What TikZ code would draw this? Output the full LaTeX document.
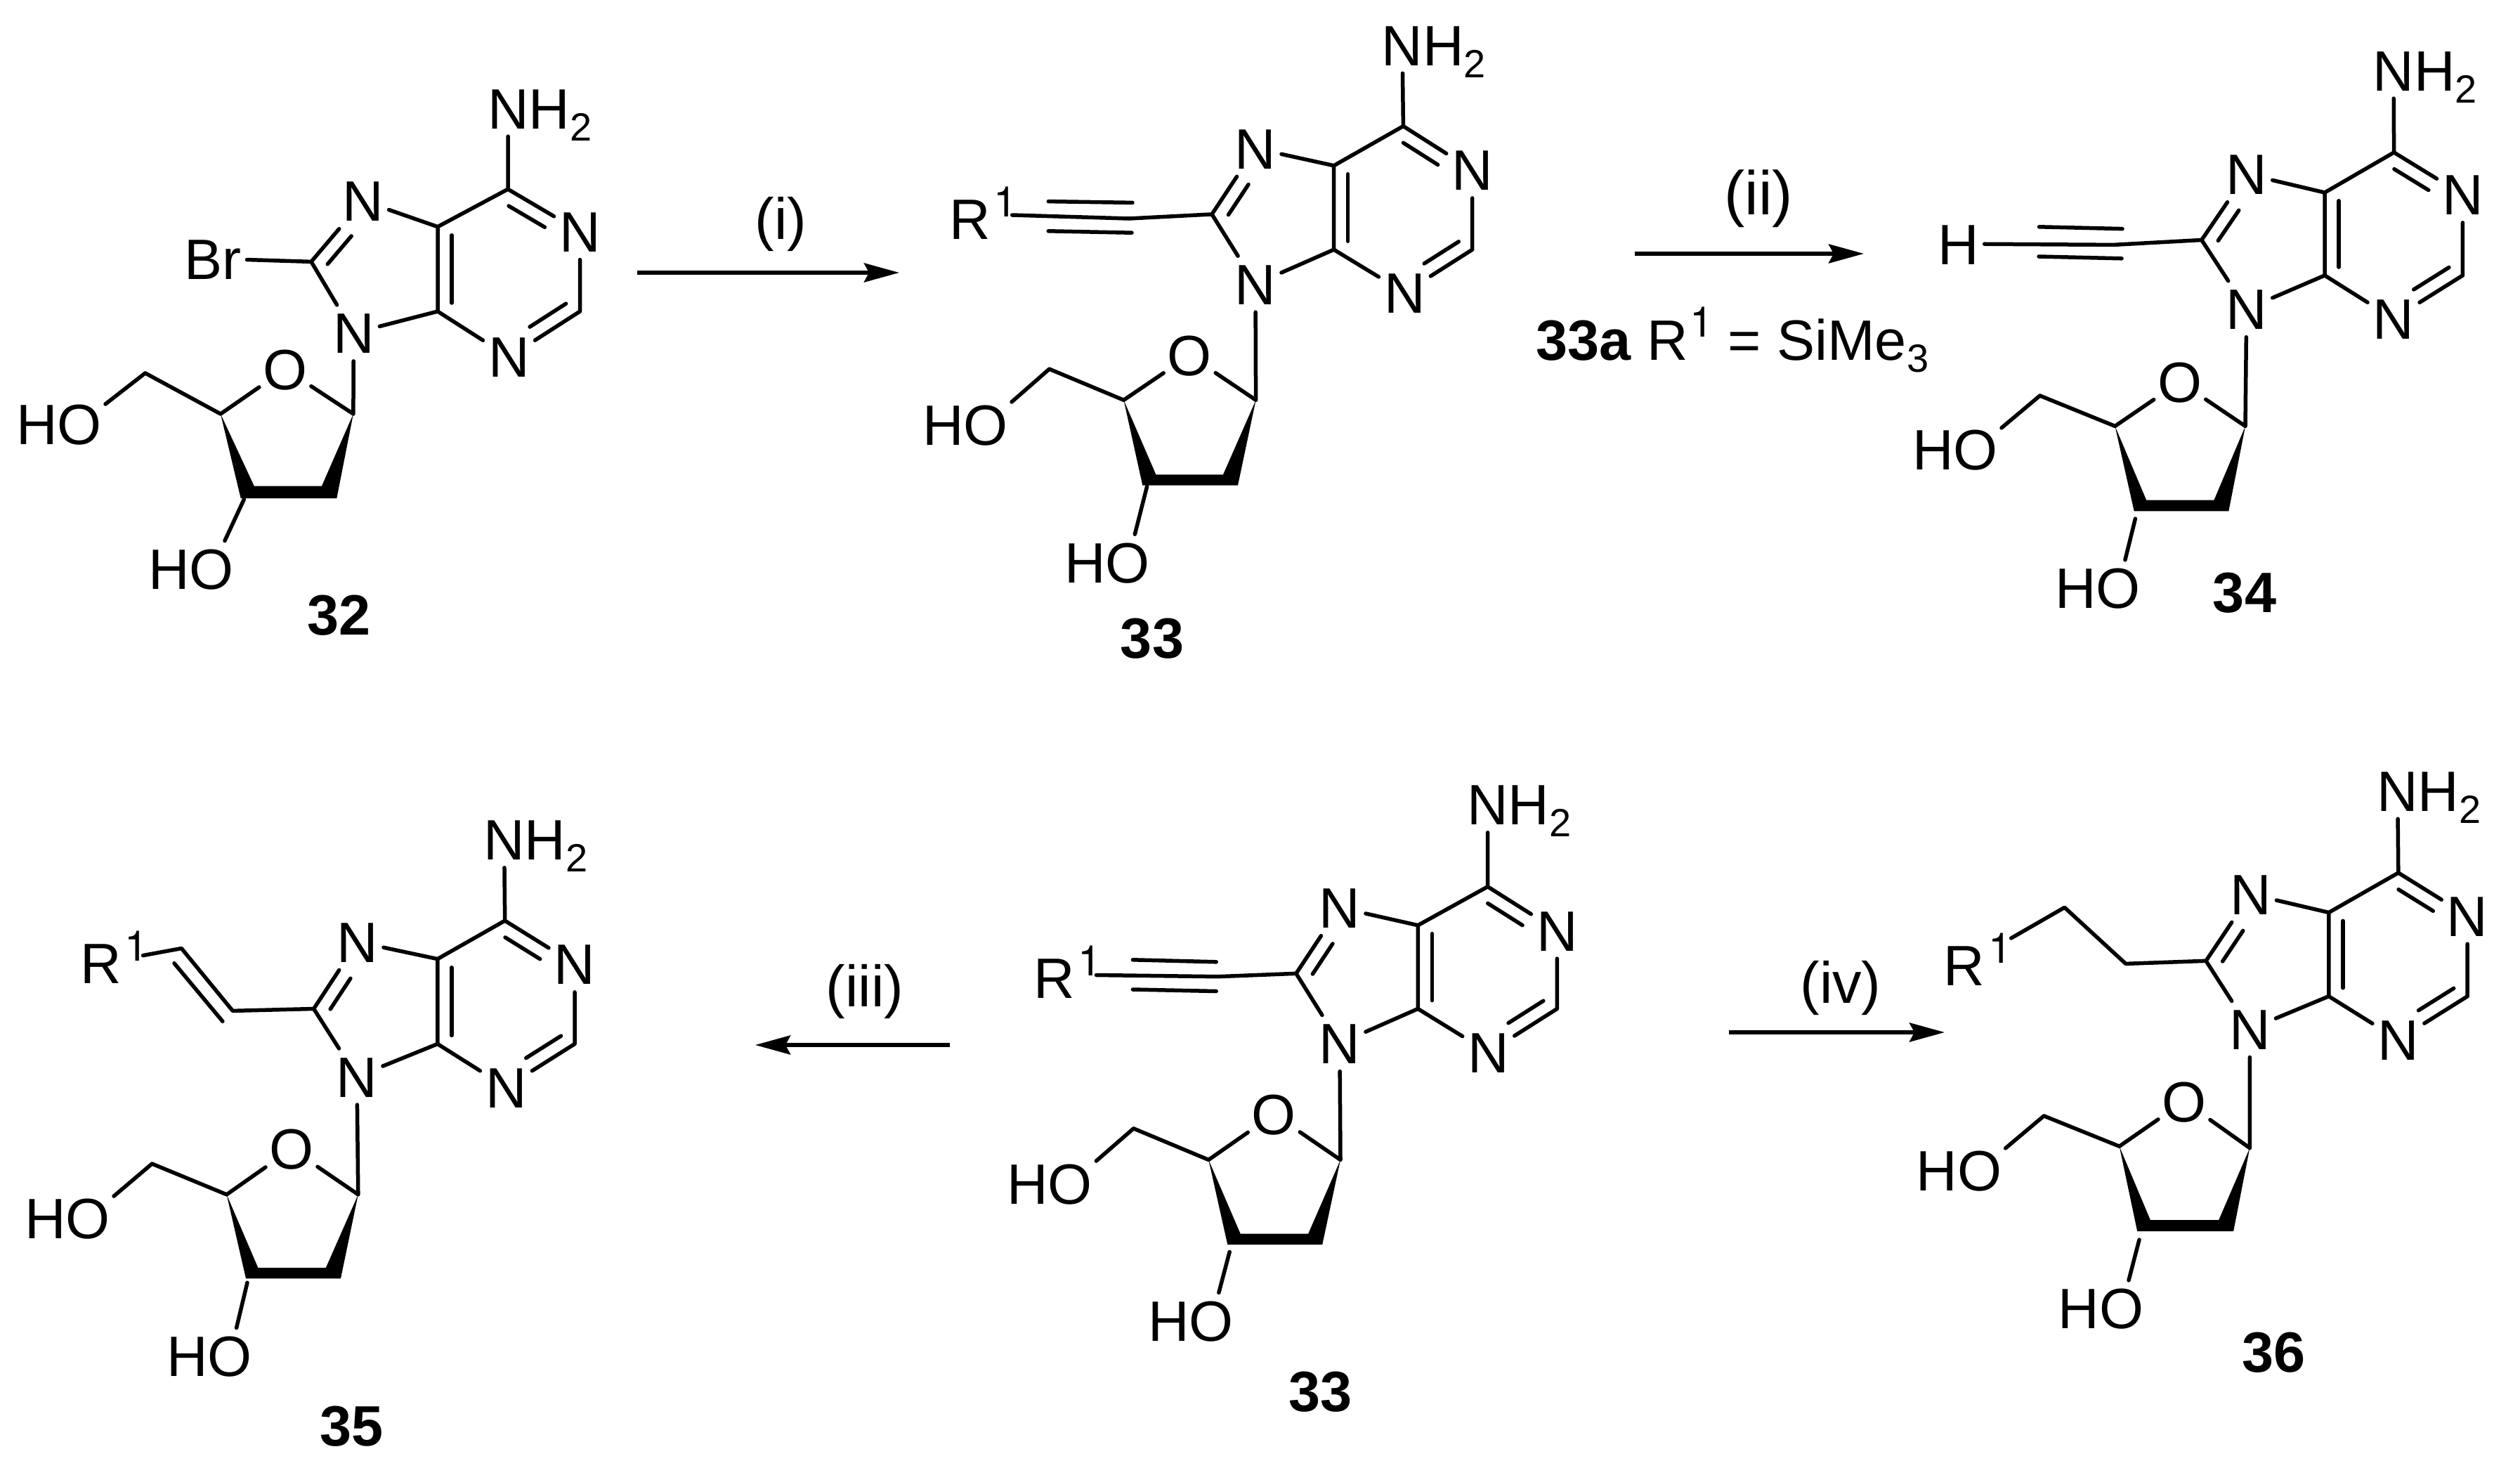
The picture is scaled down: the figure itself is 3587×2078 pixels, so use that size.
\documentclass[tikz,border=0pt]{standalone}
\usepackage{fontspec}
\setmainfont{Liberation Sans}
\newfontfamily\heros{TeX Gyre Heros}
\usetikzlibrary{calc,arrows.meta}
\newcommand\fA{\fontsize{81pt}{96pt}\selectfont}
\newcommand\fS{\fontsize{56pt}{60pt}\selectfont}
\newcommand\fU{\fontsize{60pt}{60pt}\selectfont}
\newcommand\NHt{N\rlap{H\lower17pt\hbox{\fS 2}}}
\newcommand\HOa{\llap{H}O}
\newcommand\Rone{R\rlap{\kern5pt\raise32pt\hbox{\fU\heros 1}}}
\newcommand\dbl[4]{\draw[bond] ($(#1)!#3!(#2)!20pt!-90:(#2)$) -- ($(#1)!#4!(#2)!20pt!-90:(#2)$);}
\newcommand\nuc[1]{%
  \draw[bond] (#1nh)--(#1c6) (#1c6)--(#1n1) (#1n1)--(#1c2) (#1c2)--(#1n3) (#1n3)--(#1c4)
    (#1c4)--(#1c5) (#1c5)--(#1c6) (#1c5)--(#1n7) (#1n7)--(#1c8) (#1c8)--(#1n9) (#1n9)--(#1c4)
    (#1n9)--(#1ca) (#1ca)--(#1o) (#1o)--(#1cd) (#1cd)--(#1ce) (#1ce)--(#1ho) (#1cc)--(#1oh);
  \fill (#1cd)--(#1tl)--(#1tr)--(#1ca)--(#1br)--(#1bl)--cycle;
  \dbl{#1c6}{#1n1}{0.11}{0.61}
  \dbl{#1c2}{#1n3}{0.09}{0.60}
  \dbl{#1c4}{#1c5}{0.10}{0.90}
  \dbl{#1c8}{#1n7}{0.11}{0.57}
}
\tikzset{
  atom/.style={font=\fA,inner sep=0pt,outer sep=0pt,minimum width=74pt,minimum height=80pt,text height=58pt,text depth=0pt},
  cpd/.style={font=\fA\bfseries,inner sep=0pt,text height=58pt,text depth=0pt},
  rxnlab/.style={font=\fontsize{83pt}{96pt}\selectfont,inner sep=0pt,anchor=base},
  bond/.style={line width=5.5pt,line cap=round,line join=round},
  rxn/.style={line width=5.5pt,-{Stealth[length=50pt,width=27pt,inset=7pt]}}
}
\begin{document}
\begin{tikzpicture}[x=1pt,y=-1pt]
\useasboundingbox (0,0) rectangle (3587,2078);
% ---------- 32
\node[atom] (anh) at (723.3,154.1) {\NHt};
\node[atom] (an1) at (825.5,329.6) {N};
\node[atom] (an3) at (724.5,507.9) {N};
\node[atom] (an7) at (516.6,285.7) {N};
\node[atom] (an9) at (503.4,473.9) {N};
\node[atom] (ao) at (405.9,525.3) {O};
\node[atom] (aho) at (113,603.8) {\HOa};
\node[atom] (aoh) at (301.4,809.5) {\HOa};
\node[atom,minimum width=98pt] (abr) at (302.5,368) {Br};
\coordinate (ac6) at (723,269.2);
\coordinate (ac2) at (825.5,443.1);
\coordinate (ac4) at (623,443.1);
\coordinate (ac5) at (623,322.7);
\coordinate (ac8) at (443,372.4);
\coordinate (aca) at (502.9,589);
\coordinate (acd) at (314,589);
\coordinate (acc) at (347.3,710.6);
\coordinate (ace) at (206.7,530.9);
\coordinate (atl) at (361.7,691.5);
\coordinate (atr) at (458,691.5);
\coordinate (abr2) at (479.3,709.1);
\coordinate (abl) at (342.7,709.1);
\draw[bond] (anh)--(ac6) (ac6)--(an1) (an1)--(ac2) (ac2)--(an3) (an3)--(ac4)
  (ac4)--(ac5) (ac5)--(ac6) (ac5)--(an7) (an7)--(ac8) (ac8)--(an9) (an9)--(ac4)
  (an9)--(aca) (aca)--(ao) (ao)--(acd) (acd)--(ace) (ace)--(aho) (acc)--(aoh) (abr)--(ac8);
\fill (acd)--(atl)--(atr)--(aca)--(abr2)--(abl)--cycle;
\dbl{ac6}{an1}{0.11}{0.61}
\dbl{ac2}{an3}{0.09}{0.60}
\dbl{ac4}{ac5}{0.10}{0.90}
\dbl{ac8}{an7}{0.11}{0.57}
\node[cpd] (l32) at (482.2,874.2) {32};
% ---------- 33 top
\node[atom] (bnh) at (1996,64.3) {\NHt};
\node[atom] (bn1) at (2095.7,241.9) {N};
\node[atom] (bn3) at (1999.4,416.4) {N};
\node[atom] (bn7) at (1787,211.2) {N};
\node[atom] (bn9) at (1787,404.2) {N};
\node[atom] (bo) at (1693.2,505.7) {O};
\node[atom] (bho) at (1403,604.3) {\HOa};
\node[atom] (boh) at (1605.2,800.2) {\HOa};
\node[atom,minimum width=120pt] (br) at (1380.7,311) {\Rone};
\coordinate (bc6) at (1997.4,179.5);
\coordinate (bc2) at (2095.7,355.2);
\coordinate (bc4) at (1898.6,355.2);
\coordinate (bc5) at (1898.6,235.7);
\coordinate (bc8) at (1725,304.9);
\coordinate (bca) at (1787.6,569.3);
\coordinate (bcd) at (1599.5,569.3);
\coordinate (bcc) at (1632.7,691.9);
\coordinate (bce) at (1493.6,525.1);
\coordinate (btl) at (1645.4,675.3);
\coordinate (btr) at (1741,675.3);
\coordinate (bbr) at (1762,690.6);
\coordinate (bbl) at (1626.3,690.6);
\coordinate (bk) at (1607,311);
\nuc{b}
\draw[bond] ([yshift=5pt]br.east)--(bk)--(bc8);
\draw[bond] (1492.3,286.6)--(1612,288.4);
\draw[bond] (1492.3,328.8)--(1611,331.2);
\node[cpd] (l33) at (1640,907.2) {33};
% ---------- 34
\node[atom] (cnh) at (3407,100.1) {\NHt};
\node[atom] (cn1) at (3505.4,276.9) {N};
\node[atom] (cn3) at (3407,453.6) {N};
\node[atom] (cn7) at (3197.7,247.7) {N};
\node[atom] (cn9) at (3197.7,439.7) {N};
\node[atom] (co) at (3102.7,543.4) {O};
\node[atom] (cho) at (2812,639.9) {\HOa};
\node[atom] (coh) at (3015,836.8) {\HOa};
\node[atom] (ch) at (2787.7,347) {H};
\coordinate (cc6) at (3407.6,216.9);
\coordinate (cc2) at (3505.4,391.9);
\coordinate (cc4) at (3309,391.9);
\coordinate (cc5) at (3309,274);
\coordinate (cc8) at (3133.8,341.5);
\coordinate (cca) at (3196,606.4);
\coordinate (ccd) at (3010.5,606.4);
\coordinate (ccc) at (3039.4,738.1);
\coordinate (cce) at (2903.6,563);
\coordinate (ctl) at (3055.2,711.7);
\coordinate (ctr) at (3151.4,711.7);
\coordinate (cbr) at (3172.3,727.4);
\coordinate (cbl) at (3037.7,727.4);
\coordinate (ck) at (3008,348.4);
\nuc{c}
\draw[bond] (ch)--(ck)--(cc8);
\draw[bond] (2902.5,322.8)--(3021,325.6);
\draw[bond] (2902,365)--(3020,367.8);
\node[cpd] (l34) at (3195,842.4) {34};
% ---------- 35
\node[atom] (dnh) at (717.6,1194.7) {\NHt};
\node[atom] (dn1) at (818,1371.8) {N};
\node[atom] (dn3) at (720.4,1547.1) {N};
\node[atom] (dn7) at (509,1340.4) {N};
\node[atom] (dn9) at (508,1532) {N};
\node[atom] (do) at (415,1634.9) {O};
\node[atom] (dho) at (125,1733.5) {\HOa};
\node[atom] (doh) at (327,1929.5) {\HOa};
\node[atom,minimum width=120pt] (dr) at (143.5,1370.7) {\Rone};
\coordinate (dc6) at (718.7,1310.1);
\coordinate (dc2) at (818,1485.5);
\coordinate (dc4) at (622.8,1485.5);
\coordinate (dc5) at (622.8,1364.6);
\coordinate (dc8) at (446.6,1435.5);
\coordinate (dca) at (509.8,1699.8);
\coordinate (dcd) at (322.6,1699.8);
\coordinate (dcc) at (352,1825.2);
\coordinate (dce) at (216.4,1656);
\coordinate (dtl) at (367.4,1804.1);
\coordinate (dtr) at (463.8,1804.1);
\coordinate (dbr) at (485,1819.3);
\coordinate (dbl) at (350,1819.3);
\coordinate (dv1) at (258.3,1349.5);
\coordinate (dv2) at (331.2,1438.4);
\nuc{d}
\draw[bond] (dr)--(dv1)--(dv2)--(dc8);
\draw[bond] (248,1370.7)--(316.9,1453.4);
\node[cpd] (l35) at (500.6,2028) {35};
% ---------- 33 bottom
\node[atom] (enh) at (2117.6,1144.7) {\NHt};
\node[atom] (en1) at (2216.3,1324.1) {N};
\node[atom] (en3) at (2118.7,1497.4) {N};
\node[atom] (en7) at (1906.9,1291.6) {N};
\node[atom] (en9) at (1906.9,1484.5) {N};
\node[atom] (eo) at (1813.3,1585.6) {O};
\node[atom] (eho) at (1523.4,1684.2) {\HOa};
\node[atom] (eoh) at (1724.3,1879.4) {\HOa};
\node[atom,minimum width=120pt] (er) at (1500.5,1391.5) {\Rone};
\coordinate (ec6) at (2117.6,1261.7);
\coordinate (ec2) at (2216.3,1435.5);
\coordinate (ec4) at (2018.3,1435.5);
\coordinate (ec5) at (2018.3,1316.7);
\coordinate (ec8) at (1844.9,1385.3);
\coordinate (eca) at (1908,1650.4);
\coordinate (ecd) at (1720.3,1650.4);
\coordinate (ecc) at (1750.2,1781.4);
\coordinate (ece) at (1613.5,1605.8);
\coordinate (etl) at (1765.7,1755.7);
\coordinate (etr) at (1862.1,1755.7);
\coordinate (ebr) at (1882.2,1771.1);
\coordinate (ebl) at (1747.3,1771.1);
\coordinate (ek) at (1733,1389.7);
\nuc{e}
\draw[bond] ([yshift=4pt]er.east)--(ek)--(ec8);
\draw[bond] (1612.4,1365.8)--(1731.2,1368.8);
\draw[bond] (1612.4,1408)--(1731.2,1410.5);
\node[cpd] (l33b) at (1879.3,1979.3) {33};
% ---------- 36
\node[atom] (fnh) at (3412.7,1125.2) {\NHt};
\node[atom] (fn1) at (3512.2,1303.2) {N};
\node[atom] (fn3) at (3413.8,1479.4) {N};
\node[atom] (fn7) at (3203.4,1272.4) {N};
\node[atom] (fn9) at (3202.3,1464.5) {N};
\node[atom] (fo) at (3108.9,1567.2) {O};
\node[atom] (fho) at (2817.6,1665) {\HOa};
\node[atom] (foh) at (3019.6,1861.9) {\HOa};
\node[atom,minimum width=133pt] (fr) at (2796.2,1373.1) {\Rone};
\coordinate (fc6) at (3413.8,1242);
\coordinate (fc2) at (3512.2,1417.7);
\coordinate (fc4) at (3314.8,1417.7);
\coordinate (fc5) at (3314.8,1298.5);
\coordinate (fc8) at (3140,1367.3);
\coordinate (fca) at (3202.3,1633.6);
\coordinate (fcd) at (3016.7,1631.2);
\coordinate (fcc) at (3045,1764.1);
\coordinate (fce) at (2909.3,1587.9);
\coordinate (ftl) at (3060.9,1736.2);
\coordinate (ftr) at (3158.1,1736.2);
\coordinate (fbr) at (3179.1,1752.1);
\coordinate (fbl) at (3042.2,1752.1);
\coordinate (fm1) at (2938.7,1291.3);
\coordinate (fm2) at (3025.8,1371.4);
\nuc{f}
\draw[bond] (fr)--(fm1)--(fm2)--(fc8);
\node[cpd] (l36) at (3236.2,1923.1) {36};
% ---------- arrows
\coordinate (r1a) at (906.7,388);
\coordinate (r1b) at (1280,388);
\draw[rxn] (r1a)--(r1b);
\node[rxnlab] (t1) at (1111.7,340) {(i)};
\coordinate (r2a) at (2327,361);
\coordinate (r2b) at (2653,361);
\draw[rxn] (r2a)--(r2b);
\node[rxnlab,font=\fontsize{88pt}{96pt}\selectfont] (t2) at (2503,305) {(ii)};
\node[inner sep=0pt,anchor=base west,font=\fA] (t33a) at (2186,512.7)
  {\textbf{33a} R\kern3pt\raise33pt\hbox{\fU\heros 1}\kern-2pt{} = SiMe\lower17pt\hbox{\fS 3}};
\coordinate (r3a) at (1351.7,1487);
\coordinate (r3b) at (1075,1487);
\draw[rxn] (r3a)--(r3b);
\node[rxnlab] (t3) at (1231,1432) {(iii)};
\coordinate (r4a) at (2461,1469);
\coordinate (r4b) at (2768,1469);
\draw[rxn] (r4a)--(r4b);
\node[rxnlab] (t4) at (2620,1427) {(iv)};
\end{tikzpicture}
\end{document}
